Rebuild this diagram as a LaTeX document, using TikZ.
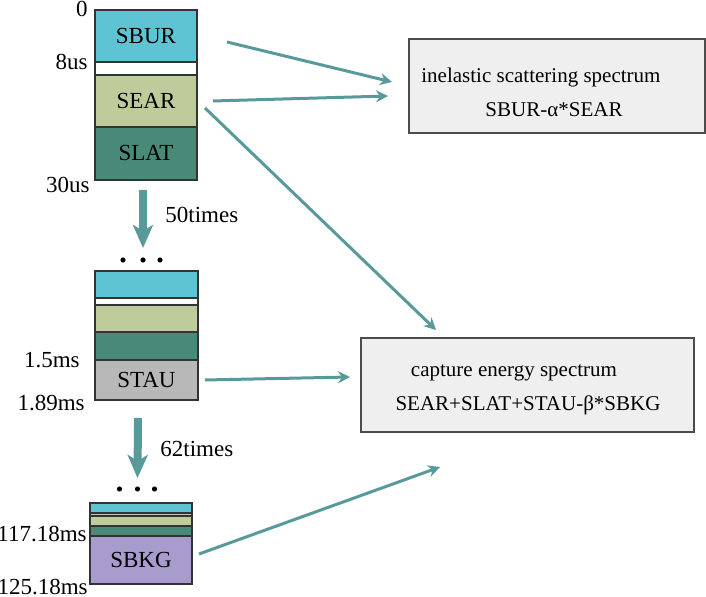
\documentclass[tikz,border=0pt]{standalone}
\usepackage{fontspec}
\setmainfont{Liberation Serif}
\usetikzlibrary{arrows.meta,positioning}
\definecolor{burcyan}{RGB}{94,195,210}
\definecolor{eargreen}{RGB}{190,203,155}
\definecolor{latteal}{RGB}{72,137,120}
\definecolor{taugray}{RGB}{184,184,184}
\definecolor{bkgpurple}{RGB}{168,155,205}
\definecolor{boxgray}{RGB}{239,239,239}
\definecolor{flowteal}{RGB}{88,154,154}
\tikzset{
  layer/.style={draw=black!80,line width=0.6pt,rectangle,minimum width=51pt,inner sep=0pt,outer sep=0pt,anchor=north,font=\fontsize{11.5}{13}\selectfont},
  timelabel/.style={anchor=east,inner sep=0pt,font=\fontsize{11.5}{13}\selectfont},
  specbox/.style={draw=black!70,line width=0.6pt,fill=boxgray,rectangle,inner sep=0pt,outer sep=0pt,anchor=north west},
  spectext/.style={inner sep=0pt,font=\fontsize{10.5}{12}\selectfont},
  flow/.style={draw=flowteal,line width=1.5pt,-{Stealth[length=6pt,width=6pt,inset=2pt]}},
  bigflow/.style={draw=flowteal,line width=4pt,-{Stealth[length=11.5pt,width=10pt,inset=3pt]}}
}
\begin{document}
\begin{tikzpicture}[x=0.5pt,y=-0.5pt]
        \useasboundingbox (0,0) rectangle (706,597);
        %% First cycle
        \node[layer,fill=burcyan,minimum height=26pt,anchor=north west] (sbur) at (95,10) {SBUR};
        \node[layer,fill=white,minimum height=6.5pt] (gap1) at (sbur.south) {};
        \node[layer,fill=eargreen,minimum height=26pt] (sear) at (gap1.south) {SEAR};
        \node[layer,fill=latteal,minimum height=26.5pt] (slat) at (sear.south) {SLAT};
        \node[timelabel] (t0) at ([shift={(-7,-1)}]sbur.north west) {0};
        \node[timelabel] (t8) at ([shift={(-7,0)}]sbur.south west) {8us};
        \node[timelabel] (t30) at ([shift={(-5,5)}]slat.south west) {30us};
        %% Last cycle
        \node[layer,fill=burcyan,minimum height=13.5pt,minimum width=51.5pt,anchor=north west] (cy2) at (95,271) {};
        \node[layer,fill=white,minimum height=3.5pt,minimum width=51.5pt] (gap2) at (cy2.south) {};
        \node[layer,fill=eargreen,minimum height=13.5pt,minimum width=51.5pt] (gr2) at (gap2.south) {};
        \node[layer,fill=latteal,minimum height=14pt,minimum width=51.5pt] (dk2) at (gr2.south) {};
        \node[layer,fill=taugray,minimum height=20pt,minimum width=51.5pt] (stau) at (dk2.south) {STAU};
        \foreach \dx in {-23.5,-3.5,13.5}
            \fill ([shift={(\dx,-11)}]cy2.north) circle (2.6);
        \node[timelabel] (t15) at ([shift={(-15,0)}]stau.north west) {1.5ms};
        \node[timelabel] (t189) at ([shift={(-10,3)}]stau.south west) {1.89ms};
        %% Repeat
        \draw[bigflow] ([shift={(-3,10)}]slat.south) -- ([shift={(-3.5,-23)}]cy2.north);
        \node[timelabel,anchor=west] (rep1) at ([shift={(19,35)}]slat.south) {50times};
        %% Background
        \node[layer,fill=burcyan,minimum height=5pt,anchor=north west] (cy3) at (90,503) {};
        \node[layer,fill=black!25,minimum height=1.5pt] (gp3) at (cy3.south) {};
        \node[layer,fill=eargreen,minimum height=5pt] (gr3) at (gp3.south) {};
        \node[layer,fill=latteal,minimum height=5pt] (dk3) at (gr3.south) {};
        \node[layer,fill=bkgpurple,minimum height=24pt] (sbkg) at (dk3.south) {SBKG};
        \foreach \dx in {-21.5,-3.5,13.5}
            \fill ([shift={(\dx,-14)}]cy3.north) circle (2.6);
        \node[timelabel] (t117) at ([shift={(-3,-2)}]sbkg.north west) {117.18ms};
        \node[timelabel] (t125) at ([shift={(-2,3)}]sbkg.south west) {125.18ms};
        \draw[bigflow] ([shift={(-8.5,18)}]stau.south) -- ([shift={(-3.5,-25)}]cy3.north);
        \node[timelabel,anchor=west] (rep2) at ([shift={(13.5,49)}]stau.south) {62times};
        %% Spectra
        \node[specbox,minimum width=148pt,minimum height=47pt] (inel) at (409,39) {};
        \node[spectext,anchor=west] (inelA) at ([shift={(12,-9)}]inel.west) {inelastic scattering spectrum};
        \node[spectext] (inelB) at ([shift={(-3,24)}]inel.center) {SBUR-α*SEAR};
        \node[specbox,minimum width=166.5pt,minimum height=47pt] (capt) at (361,338) {};
        \node[spectext] (captA) at ([shift={(-13.5,-12)}]capt.center) {capture energy spectrum};
        \node[spectext] (captB) at ([shift={(0.5,20)}]capt.center) {SEAR+SLAT+STAU-β*SBKG};
        %% Arrows
        \draw[flow] ([shift={(30,6)}]sbur.east) -- ([shift={(-17,-4)}]inel.west);
        \draw[flow] ([shift={(16,0)}]sear.east) -- ([shift={(-21,10)}]inel.west);
        \draw[flow] ([shift={(8,7)}]sear.east) -- ([shift={(-91.5,-8)}]capt.north);
        \draw[flow] ([shift={(7,0)}]stau.east) -- ([shift={(-11,-8)}]capt.west);
        \draw[flow] ([shift={(7,-6)}]sbkg.east) -- ([shift={(-87.5,35)}]capt.south);
\end{tikzpicture}
\end{document}
